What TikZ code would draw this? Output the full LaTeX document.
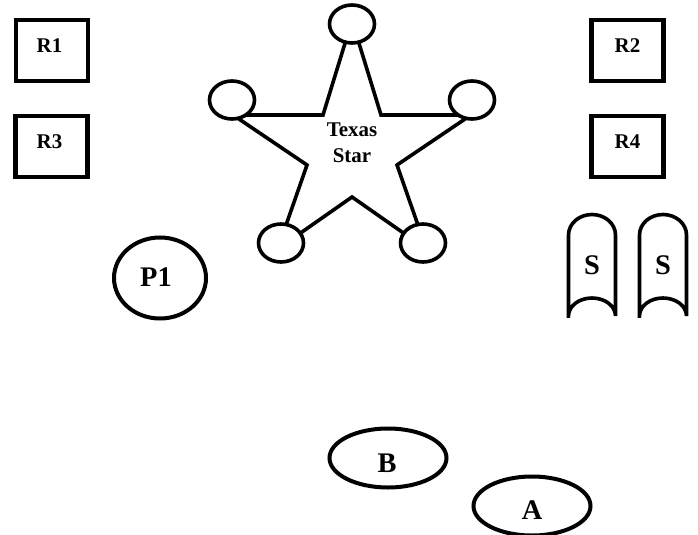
\documentclass[tikz,border=0pt]{standalone}
\usepackage{fontspec}
\setmainfont{Liberation Serif}
\usetikzlibrary{shapes.geometric}
\begin{document}
\begin{tikzpicture}[x=1bp,y=-1bp,
  rbox/.style={draw,line width=4.5bp,minimum width=72bp,minimum height=61bp,inner sep=0pt},
  smalltext/.style={font=\fontsize{21}{26}\selectfont\bfseries,inner sep=0pt,align=center},
  bigtext/.style={font=\fontsize{28.5}{30}\selectfont\bfseries,inner sep=0pt},
  starline/.style={draw,line width=3.6bp,line join=miter},
  starcirc/.style={ellipse,draw,fill=white,line width=3.6bp,minimum width=45bp,minimum height=38bp,inner sep=0pt},
  oval/.style={ellipse,draw,line width=4bp,inner sep=0pt},
  scroll/.style={draw,line width=3.6bp}]
\useasboundingbox (0,0) rectangle (698,535);

% boxes
\node[rbox] (r1) at (52,50.5) {};
\node[rbox] (r3) at (51.5,146.5) {};
\node[rbox] (r2) at (627.5,50.5) {};
\node[rbox] (r4) at (627.5,146.5) {};
\node[smalltext] (r1t) at (49.5,45.5) {R1};
\node[smalltext] (r3t) at (49.5,141.5) {R3};
\node[smalltext] (r2t) at (627.5,45.5) {R2};
\node[smalltext] (r4t) at (627.5,141.5) {R4};

% star outline
\coordinate (t1) at (346,40);
\coordinate (t2) at (358,40);
\coordinate (ul) at (323,115);
\coordinate (ur) at (381,115);
\coordinate (l1) at (247,115);
\coordinate (l2) at (236,117);
\coordinate (r1p) at (457,115);
\coordinate (r2p) at (468,117);
\coordinate (ll) at (307,165);
\coordinate (lr) at (397,165);
\coordinate (bl1) at (285,228);
\coordinate (bl2) at (297,235.5);
\coordinate (br1) at (419,228);
\coordinate (br2) at (407,235.5);
\coordinate (bi) at (352,197);
\path[starline] (t1) -- (ul) -- (l1) -- (l2) -- (ll) -- (bl1) -- (bl2) -- (bi)
  -- (br2) -- (br1) -- (lr) -- (r2p) -- (r1p) -- (ur) -- (t2) -- cycle;
\node[starcirc] (ct) at (352,24) {};
\node[starcirc] (cl) at (232,100) {};
\node[starcirc] (cr) at (472,100) {};
\node[starcirc] (cbl) at (281,243) {};
\node[starcirc] (cbr) at (423,243) {};
\node[smalltext] (star) at (352,143) {Texas\\Star};

% scrolls
\draw[scroll] (568.5,316) -- (568.5,235)
  arc[start angle=180,end angle=360,x radius=23.5,y radius=20.5]
  -- (615.5,316)
  arc[start angle=0,end angle=-180,x radius=23.5,y radius=18] -- cycle;
\draw[scroll] (639.5,316) -- (639.5,235)
  arc[start angle=180,end angle=360,x radius=23.5,y radius=20.5]
  -- (686.5,316)
  arc[start angle=0,end angle=-180,x radius=23.5,y radius=18] -- cycle;
\node[bigtext] (s1) at (592,265) {S};
\node[bigtext] (s2) at (663,265) {S};

% ovals
\node[oval,minimum width=92bp,minimum height=81bp] (p1) at (160,278) {};
\node[bigtext] (p1t) at (156,277.5) {P1};
\node[oval,minimum width=117bp,minimum height=59bp] (b) at (388,458) {};
\node[bigtext] (bt) at (387,463) {B};
\node[oval,minimum width=117bp,minimum height=59bp] (a) at (532,506) {};
\node[bigtext] (at) at (532,510) {A};
\end{tikzpicture}
\end{document}
